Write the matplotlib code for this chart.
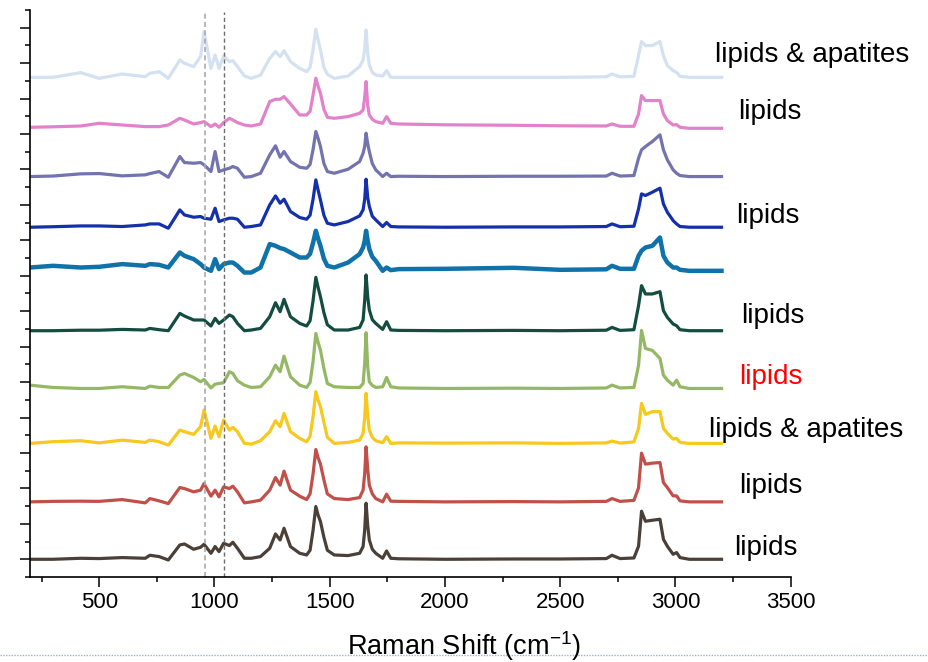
import matplotlib
matplotlib.use("Agg")
import matplotlib.pyplot as plt
from matplotlib.lines import Line2D
from matplotlib.ticker import FixedLocator

plt.rcParams["font.family"] = ["Liberation Sans", "DejaVu Sans"]
plt.rcParams["mathtext.fontset"] = "custom"
plt.rcParams["mathtext.rm"] = "Liberation Sans"
plt.rcParams["mathtext.default"] = "regular"

# Raman shift grid (cm-1), shared by all spectra
shift = [200, 300, 420, 500, 600, 700, 720, 760, 800,
         850, 870, 910, 940, 955, 985, 1003, 1020, 1040, 1065,
         1080, 1100, 1130, 1160, 1200, 1240, 1265, 1285, 1302, 1330,
         1370, 1400, 1415, 1428, 1440, 1450, 1460, 1475, 1490, 1520,
         1580, 1630, 1645, 1652, 1658, 1665, 1672, 1685, 1700, 1730,
         1747, 1765, 1800, 2000, 2300, 2500, 2700, 2725, 2760, 2820,
         2840, 2853, 2870, 2900, 2933, 2948, 2965, 2990, 3005, 3020,
         3060, 3200]

# intensities (a.u., baseline removed), top spectrum first
s1 = [0, 0, 4.7, -1, 3.3, 0.7, 4, 5.7, -1,
      17.3, 14, 10.7, 20.7, 45.7, 9, 22.3, 9, 21.3, 15.7,
      16.7, 10.7, 1.3, -1, 2.3, 19, 25.7, 20.7, 26.7, 15.7,
      9, 5.7, 10, 28, 48, 37, 27.3, 10, 3, -1,
      1.3, 10.7, 17.3, 28, 47.3, 24, 12.3, 5, 2.3, 1.3,
      6.7, 0, 0, 0, 0, 0, 0.5, 3.3, 0.5, 1,
      21.7, 35.7, 31.7, 31.7, 35.7, 21.7, 11.7, 6.7, 5, 1,
      0, 0]
s2 = [0, 0.5, 1.3, 4, 2.3, 0.7, 0.7, 0.7, 2.3,
      9, 7.3, 3.3, 4.7, 5.7, 0.7, 3.3, 0, 4.7, 9,
      7.3, 4.7, 2.3, 1.3, 3.3, 25.7, 28, 28, 30.7, 23.3,
      12.3, 12.3, 16, 32, 49, 41, 34, 18, 10, 9,
      10.7, 14, 17.3, 30, 45.7, 22, 12.3, 8, 5.7, 4,
      10.7, 4, 3.3, 2.5, 2, 1.5, 1.3, 3.3, 1, 1,
      13.3, 31.7, 26.7, 26.7, 26.7, 13.3, 6.7, 2.3, 2.7, 0,
      -1, -1]
s3 = [0, 0.5, 2.7, 3, 0.7, 1.7, 3, 5, -0.7,
      20, 14, 13.3, 14, 11.7, 5, 25, 5, 6.7, 8.3,
      10, 8.3, -0.7, 0, 3.3, 21.7, 30.7, 19.3, 25, 15,
      9.3, 8.3, 12, 27, 45, 38, 30, 13, 5, 3.3,
      7.3, 15, 23.3, 30, 43.3, 33, 25, 13, 6.7, 0,
      3.3, 0, 0.3, 0, 0.3, 0.3, 0.5, 3.3, 0.5, 1,
      18.3, 26.7, 30, 35, 41.7, 26.7, 16.7, 6.7, 3.3, 1,
      0, 0]
s4 = [0, 0.5, 1.3, 1.3, 0.7, 2.3, 3.3, 3.3, -1,
      17.3, 12.3, 10, 10.7, 9, 8, 19, 5.7, 7.3, 9,
      9, 8, 0, 0.7, 2.3, 22.3, 31.3, 24, 28, 15.7,
      9.7, 8, 12, 28, 47.3, 37, 27.3, 12, 4, 2.3,
      5.7, 11.3, 17.3, 28, 48, 30, 20.7, 11, 7.3, 0.7,
      4.7, 0.7, 0.3, 0, 0.3, 0.3, 0.7, 3.3, 0.5, 1,
      18.3, 33.3, 31.7, 35, 39, 23.3, 15, 6.7, 3.3, 0.7,
      0, 0]
s5 = [3.3, 5, 3.3, 4, 6.7, 5, 6.7, 6, 3.3,
      18.3, 15, 11.7, 6.7, 3.3, 0, 11.7, 1.7, 6.7, 8.3,
      8.3, 5, -1.7, -1.7, 3.3, 26.7, 25, 22.7, 21.7, 18.3,
      13.3, 13.3, 17, 28, 40, 32, 25, 12, 5, 3.3,
      8.3, 16.7, 23.3, 30, 40, 30, 21.7, 14, 10, 0,
      3.3, 0.7, 1.7, 2, 3, 1, 1.5, 5, 2, 2,
      15, 20, 23.3, 25, 33.3, 15, 8.3, 3.3, 3.3, 1,
      0, 0]
s6 = [0, 0, 0.5, 0.5, 1.3, 0.7, 2.3, 1, 0,
      17.3, 14.7, 10.7, 10.7, 10.7, 4.7, 12.3, 7.3, 10.7, 15.7,
      14, 7.3, 0, 0.7, 2.3, 14, 28, 19, 31.3, 14,
      7.3, 4.7, 10, 30, 53.3, 43, 34, 18, 6, 0.7,
      0.7, 3.3, 10.7, 30, 55.7, 34, 20.7, 11, 7.3, 1.3,
      9, 0.7, 0.3, 0, 0.3, 0, 0.5, 3.3, 0.3, 1,
      25, 45, 36.7, 36.7, 39, 20, 13.3, 6.7, 5, 1,
      0, 0]
s7 = [3.3, 1, 0, 0, 1.7, 0, 2.3, 1, 1,
      13.3, 15, 11, 6.7, 9, 0.5, 4.3, 5, 5.7, 16.7,
      15, 7.7, 3.3, 1, 1.7, 11.7, 23.3, 16.7, 32.3, 11.7,
      3.3, 1, 6, 27, 55, 46, 38.3, 20, 5, 1.7,
      1, 1, 5, 25, 55.7, 22, 6.7, 3, 1, 1.7,
      11, 1.7, 0.5, 0, 0.3, 0, 0.5, 3.3, 0.5, 1,
      23, 58, 40, 38, 30, 13.3, 8.3, 3.3, 8.3, 1.7,
      0, 0]
s8 = [0, 1.7, 2.7, 0.5, 3.3, 1, 3.3, 1.7, -1.7,
      13.3, 11.7, 9, 16.7, 33.3, 5, 17.3, 6.7, 23.3, 13.3,
      16, 11.7, 0, -0.7, 2.7, 11.7, 22.7, 16.7, 30, 11.7,
      5, 1.7, 7, 27, 51.7, 43, 36.7, 21, 6, 0,
      1, 3.3, 10, 26, 50, 28, 13.3, 6, 2.7, 0.7,
      6.7, 0, 0.5, 0.3, 0.5, 0, 0.5, 2.3, 0.3, 1.5,
      15, 40, 29, 31.7, 31.7, 15, 10, 4.3, 5, 1,
      0, 0]
s9 = [0, 0.5, 0.7, 0.5, 2.3, -1, 3.3, 1, -1.7,
      14.3, 13.3, 10, 11.7, 18.3, 5.7, 11.7, 5, 15, 13.3,
      15.7, 10, -1, 0, 1.7, 11.7, 24.3, 16.7, 30.7, 11.7,
      5.7, 2.3, 8, 28, 52.3, 44, 37.7, 22, 8, 3.3,
      2.3, 4.3, 11.7, 28, 55, 33, 16.7, 8, 3.3, 0,
      7.7, 0.7, 0.5, 0, 0.3, 0, 0.5, 3.3, 0.5, 1.5,
      14, 48.7, 37.7, 38.7, 39.3, 19.3, 14.3, 6, 6, 1,
      0, 0]
s10 = [0, 0, 1, 0.7, 1.7, 1, 4, 2.7, -0.7,
       14.3, 15.3, 10, 12, 15, 6, 12.7, 7.7, 16, 13.7,
       17, 11, 1, 1, 2.7, 11, 25.3, 19.3, 31, 12.7,
       6, 4.3, 9, 29, 52.7, 44, 37.7, 22, 9, 4.3,
       3.7, 6, 12.7, 29, 56, 34, 19.3, 10, 6, 1,
       8.3, 1, 0.5, 0, 0.3, 0.3, 0.7, 4, 0.7, 1.3,
       13, 48, 38, 39, 40, 20, 13, 5, 6.7, 1.7,
       0, 0]

spectra = [s1, s2, s3, s4, s5, s6, s7, s8, s9, s10]
labels = ["lipids & apatites", "lipids", "", "lipids", "", "lipids",
          "lipids", "lipids & apatites", "lipids", "lipids"]
label_x = [3172, 3272, 0, 3263, 0, 3285, 3276, 3146, 3276, 3254]

# styling
colors = ["#d3e1f1", "#e282cb", "#7373b0", "#1430aa", "#0f72a8",
          "#134d40", "#94b865", "#f7c81e", "#c1504a", "#4b4038"]
offsets = [14.10, 12.69, 11.30, 9.87, 8.64, 6.95, 5.32, 3.77, 2.12, 0.50]
label_dy = [0.63, 0.43, 0, 0.32, 0, 0.41, 0.32, 0.38, 0.45, 0.32]
label_colors = ["black"] * 6 + ["red"] + ["black"] * 3
scale = 35.4

fig = plt.figure(figsize=(9.29, 6.62), dpi=100)
ax = fig.add_axes([0.0323, 0.1284, 0.8188, 0.8565])

for i, s in enumerate(spectra):
    y = [offsets[i] + v / scale for v in s]
    lw = 3.2 if i == 4 else 2.3
    ax.plot(shift, y, color=colors[i], lw=lw, solid_joinstyle="round")
    if labels[i]:
        ax.text(label_x[i], offsets[i] + label_dy[i], labels[i], fontsize=20,
                color=label_colors[i], va="center", ha="left", clip_on=False)

ax.axvline(960, ymax=0.996, color="#aaaaaa", lw=1.2, ls=(0, (3, 2)))
ax.axvline(1040, ymax=0.996, color="#6e6e6e", lw=1.0, ls=(0, (3, 2)))

ax.set_xlim(200, 3500)
ax.set_ylim(0, 16)
ax.set_xticks([500, 1000, 1500, 2000, 2500, 3000, 3500])
ax.xaxis.set_minor_locator(FixedLocator([250, 750, 1250, 1750, 2250, 2750, 3250]))
ax.yaxis.set_major_locator(FixedLocator([k + 0.5 for k in range(16)]))
ax.yaxis.set_minor_locator(FixedLocator(list(range(17))))
ax.set_yticklabels([])
ax.tick_params(which="major", direction="out", length=7, width=1.1, labelsize=16)
ax.tick_params(which="minor", direction="out", length=3.5, width=1.1)
ax.spines["top"].set_visible(False)
ax.spines["right"].set_visible(False)
for side in ["left", "bottom"]:
    ax.spines[side].set_linewidth(1.2)

# axis title is centred on the whole figure in the original
fig.text(0.5, 0.0106, "Raman Shift (cm$^{-1}$)", fontsize=19.5,
         ha="center", va="baseline")

fig.add_artist(Line2D([0, 1], [0.0106, 0.0106], transform=fig.transFigure,
                      color="#9fb0c8", lw=1.0, ls=(0, (1, 1))))

fig.savefig("out.png", dpi=100)
